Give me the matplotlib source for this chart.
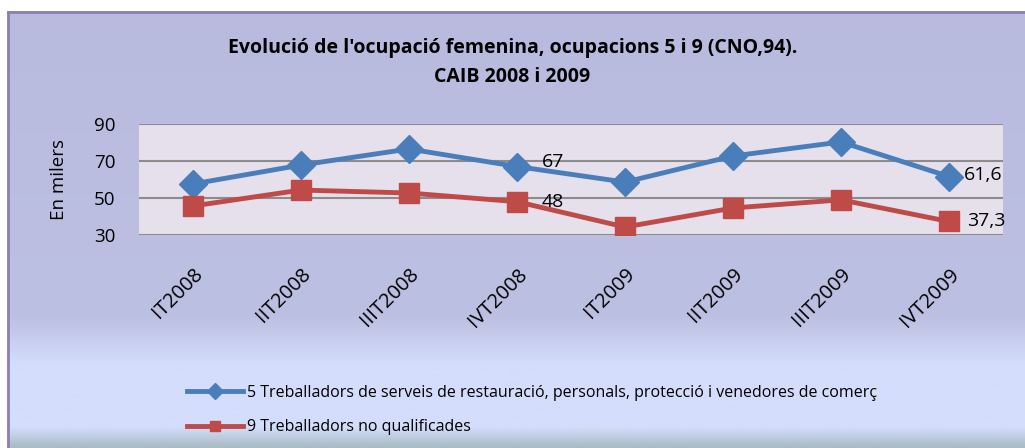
import matplotlib.pyplot as plt
import numpy as np
from matplotlib.colors import LinearSegmentedColormap

plt.rcParams['font.family'] = ['Open Sans', 'DejaVu Sans']

# quarters and values (thousands)
quarters = ['IT2008', 'IIT2008', 'IIIT2008', 'IVT2008',
            'IT2009', 'IIT2009', 'IIIT2009', 'IVT2009']
serveis = [57.6, 67.8, 76.5, 67.0, 58.6, 72.7, 80.3, 61.6]
no_qualif = [45.7, 54.3, 52.7, 48.0, 34.3, 44.6, 49.0, 37.3]
label_5 = '5 Treballadors de serveis de restauració, personals, protecció i venedores de comerç'
label_9 = '9 Treballadors no qualificades'

fig = plt.figure(figsize=(10.25, 4.48), dpi=100)

# background gradient (lavender -> light blue -> grey at bottom)
bg = fig.add_axes([0, 0, 1, 1], zorder=-10)
bg.set_xlim(0, 1)
bg.set_ylim(0, 1)
bg.axis('off')
cmap = LinearSegmentedColormap.from_list('bg', [
    (0.0, '#b9bbde'), (0.70, '#bcc0e2'), (0.81, '#d4ddfb'),
    (0.955, '#d4ddfb'), (1.0, '#aabcc6')])
grad = np.linspace(0, 1, 448).reshape(-1, 1)
bg.imshow(grad, cmap=cmap, aspect='auto', extent=[8/1025, 1, 0, 1 - 12/448],
          origin='upper')
bg.plot([8/1025, 1], [1 - 12/448, 1 - 12/448], color='#8f7cb8', lw=2)
bg.plot([8/1025, 8/1025], [0, 1 - 12/448], color='#8f7cb8', lw=2)

ax = fig.add_axes([139/1025, 1 - 235/448, 864/1025, 111/448])
ax.set_facecolor('#e5e0ec')
x = np.arange(len(quarters))
ax.plot(x, serveis, color='#4a7ebb', lw=3.5, marker='D', markersize=14,
        label=label_5, solid_joinstyle='round')
ax.plot(x, no_qualif, color='#be4b48', lw=3.5, marker='s', markersize=14,
        label=label_9, solid_joinstyle='round')

ax.set_xlim(-0.5, len(quarters) - 0.5)
ax.set_ylim(30, 90)
ax.set_yticks([30, 50, 70, 90])
ax.yaxis.grid(True, color='#8c8c8c', lw=1.5)
ax.set_axisbelow(True)
for s in ax.spines.values():
    s.set_visible(False)
ax.tick_params(axis='both', length=0)
ax.tick_params(axis='y', pad=17, labelsize=13.5)
ax.set_xticks(x)
ax.set_xticklabels(quarters, rotation=45, ha='right', rotation_mode='anchor', fontsize=14.5)
ax.tick_params(axis='x', pad=21)
ax.set_ylabel('En milers', fontsize=13.5, labelpad=19)

# data labels on the IVT points
offsets = {3: (18, 3), 7: (11, 1)}
offsets_9 = {3: (18, 0), 7: (13, 0)}
for i in (3, 7):
    ax.annotate(f'{serveis[i]:g}'.replace('.', ','), (x[i], serveis[i]),
                xytext=offsets[i], textcoords='offset points', va='center', fontsize=14)
    ax.annotate(f'{no_qualif[i]:g}'.replace('.', ','), (x[i], no_qualif[i]),
                xytext=offsets_9[i], textcoords='offset points', va='center', fontsize=14)

fig.text(0.5, 1 - 48/448, "Evolució de l'ocupació femenina, ocupacions 5 i 9 (CNO,94).",
         ha='center', va='center', fontsize=14, fontweight='bold')
fig.text(0.5, 1 - 77/448, 'CAIB 2008 i 2009',
         ha='center', va='center', fontsize=14, fontweight='bold')

fig.legend(loc='upper left', bbox_to_anchor=(187/1025, 1 - 385/448), frameon=False,
           fontsize=11.5, handlelength=3.5, handletextpad=0.25, labelspacing=1.15,
           borderpad=0, borderaxespad=0, markerscale=0.55)

fig.savefig('out.png', dpi=100)
